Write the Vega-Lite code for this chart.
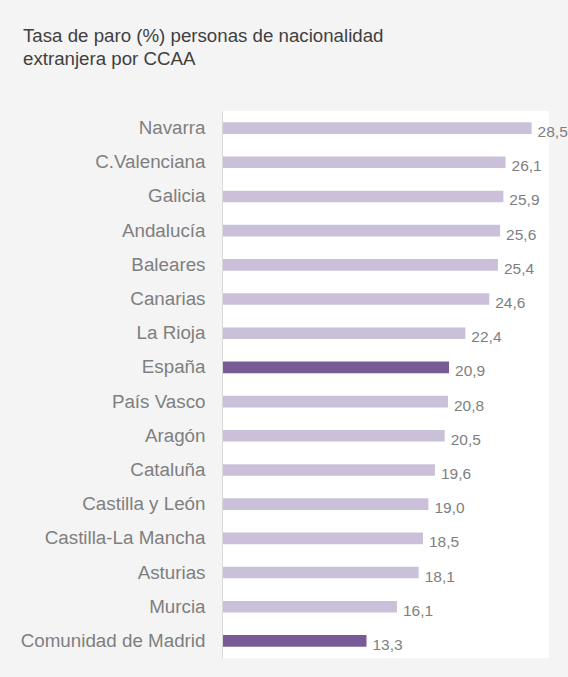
{
  "$schema": "https://vega.github.io/schema/vega-lite/v6.json",
  "width": 327,
  "height": 547,
  "autosize": {"type": "none"},
  "padding": {"left": 222, "top": 111, "right": 19, "bottom": 19},
  "background": "#f4f4f4",
  "title": {
    "text": ["Tasa de paro (%) personas de nacionalidad", "extranjera por CCAA"],
    "anchor": "start",
    "frame": "group",
    "dx": -199,
    "offset": 42,
    "font": "Liberation Sans",
    "fontSize": 18.7,
    "fontWeight": "normal",
    "color": "#404040",
    "lineHeight": 23
  },
  "config": {
    "view": {"fill": "white", "stroke": null},
    "font": "Liberation Sans",
    "locale": {
      "number": {"decimal": ",", "thousands": ".", "grouping": [3], "currency": ["", " €"]}
    }
  },
  "data": {
    "values": [
      {"ccaa": "Navarra", "tasa": 28.5},
      {"ccaa": "C.Valenciana", "tasa": 26.1},
      {"ccaa": "Galicia", "tasa": 25.9},
      {"ccaa": "Andalucía", "tasa": 25.6},
      {"ccaa": "Baleares", "tasa": 25.4},
      {"ccaa": "Canarias", "tasa": 24.6},
      {"ccaa": "La Rioja", "tasa": 22.4},
      {"ccaa": "España", "tasa": 20.9},
      {"ccaa": "País Vasco", "tasa": 20.8},
      {"ccaa": "Aragón", "tasa": 20.5},
      {"ccaa": "Cataluña", "tasa": 19.6},
      {"ccaa": "Castilla y León", "tasa": 19.0},
      {"ccaa": "Castilla-La Mancha", "tasa": 18.5},
      {"ccaa": "Asturias", "tasa": 18.1},
      {"ccaa": "Murcia", "tasa": 16.1},
      {"ccaa": "Comunidad de Madrid", "tasa": 13.3}
    ]
  },
  "encoding": {
    "y": {
      "field": "ccaa",
      "type": "nominal",
      "sort": null,
      "scale": {"paddingInner": 0.66, "paddingOuter": 0.33},
      "axis": {
        "title": null,
        "ticks": false,
        "domainColor": "#d9d9d9",
        "domainWidth": 1,
        "labelFont": "Liberation Sans",
        "labelFontSize": 18.8,
        "labelColor": "#7f7f7f",
        "labelPadding": 17,
        "labelLimit": 300,
        "grid": false,
        "zindex": 1
      }
    },
    "x": {
      "field": "tasa",
      "type": "quantitative",
      "scale": {"domain": [0, 30.1], "nice": false, "zero": true},
      "axis": null
    }
  },
  "layer": [
    {
      "mark": {"type": "bar"},
      "encoding": {
        "color": {
          "condition": {
            "test": "datum.ccaa === 'España' || datum.ccaa === 'Comunidad de Madrid'",
            "value": "#775a96"
          },
          "value": "#cbc0da"
        }
      }
    },
    {
      "mark": {
        "type": "text",
        "align": "left",
        "baseline": "middle",
        "dx": 6,
        "dy": 4,
        "font": "Liberation Sans",
        "fontSize": 15.5,
        "color": "#7f7f7f"
      },
      "encoding": {
        "text": {"field": "tasa", "type": "quantitative", "format": ".1f"}
      }
    }
  ]
}
